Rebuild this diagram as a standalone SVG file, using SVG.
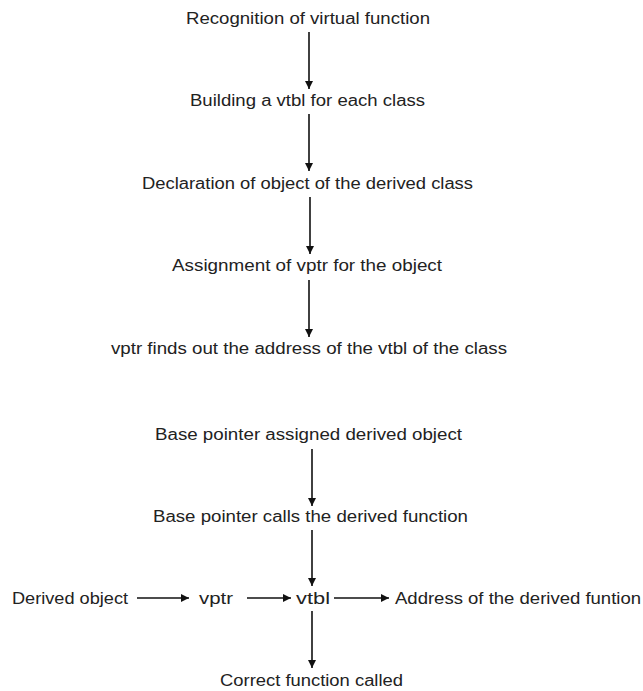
<svg xmlns="http://www.w3.org/2000/svg" width="643" height="691" viewBox="0 0 643 691">
<style>
text{font-family:"Liberation Sans",Arial,sans-serif;font-size:16px;fill:#222;}
.e line{stroke:#111;stroke-width:1.6;fill:none;marker-end:url(#ah);}
</style>
<defs>
<marker id="ah" viewBox="0 0 10 10" refX="10" refY="5" markerWidth="8" markerHeight="8" markerUnits="userSpaceOnUse" orient="auto">
<path d="M0,0 L10,5 L0,10 z" fill="#111"/>
</marker>
</defs>
<rect width="643" height="691" fill="#fff"/>
<g id="n1"><text x="186" y="24" textLength="244" lengthAdjust="spacingAndGlyphs">Recognition of virtual function</text></g>
<g id="n2"><text x="190" y="106" textLength="235" lengthAdjust="spacingAndGlyphs">Building a vtbl for each class</text></g>
<g id="n3"><text x="142" y="189" textLength="331" lengthAdjust="spacingAndGlyphs">Declaration of object of the derived class</text></g>
<g id="n4"><text x="172" y="271" textLength="270" lengthAdjust="spacingAndGlyphs">Assignment of vptr for the object</text></g>
<g id="n5"><text x="111" y="354" textLength="396" lengthAdjust="spacingAndGlyphs">vptr finds out the address of the vtbl of the class</text></g>
<g id="n6"><text x="155" y="440" textLength="307" lengthAdjust="spacingAndGlyphs">Base pointer assigned derived object</text></g>
<g id="n7"><text x="153" y="522" textLength="315" lengthAdjust="spacingAndGlyphs">Base pointer calls the derived function</text></g>
<g id="n8"><text x="12" y="604" textLength="116" lengthAdjust="spacingAndGlyphs">Derived object</text></g>
<g id="n9"><text x="199" y="604" textLength="34" lengthAdjust="spacingAndGlyphs">vptr</text></g>
<g id="n10"><text x="296" y="604" textLength="34" lengthAdjust="spacingAndGlyphs">vtbl</text></g>
<g id="n11"><text x="395" y="604" textLength="246" lengthAdjust="spacingAndGlyphs">Address of the derived funtion</text></g>
<g id="n12"><text x="220" y="686" textLength="183" lengthAdjust="spacingAndGlyphs">Correct function called</text></g>
<g class="e" id="connectors">
<line x1="309" y1="32" x2="309" y2="89"/>
<line x1="309" y1="114" x2="309" y2="171"/>
<line x1="310" y1="197" x2="310" y2="254"/>
<line x1="309" y1="280" x2="309" y2="337"/>
<line x1="312" y1="449" x2="312" y2="506"/>
<line x1="312" y1="530" x2="312" y2="586"/>
<line x1="137" y1="598" x2="189" y2="598"/>
<line x1="247" y1="598" x2="291" y2="598"/>
<line x1="334" y1="598" x2="389" y2="598"/>
<line x1="312" y1="611" x2="312" y2="668"/>
</g>
</svg>
